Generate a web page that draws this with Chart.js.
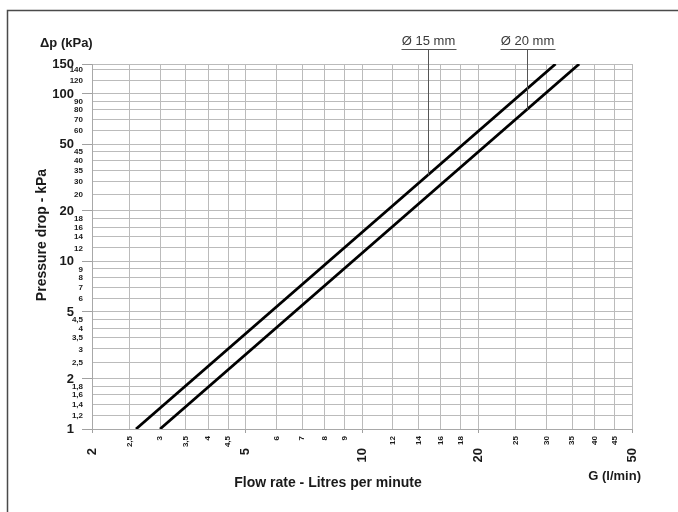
<!DOCTYPE html>
<html>
<head>
<meta charset="utf-8">
<script src="https://cdn.jsdelivr.net/npm/chart.js@4.4.0/dist/chart.umd.min.js"></script>
<style>
  html, body { margin: 0; padding: 0; background: #fff; }
</style>
</head>
<body>
<canvas id="myChart" width="678" height="512"></canvas>
<script>
// pressure drop lines (end points, log-log)
var seriesNames = ['Ø 15 mm', 'Ø 20 mm'];
var flow15 = [2.6, 31.7];
var drop15 = [1, 150];
var flow20 = [3.0, 36.5];
var drop20 = [1, 150];
// flow where each name leader drops onto its line
var leaderFlow = [14.8, 26.7];

var xTicks = [2, 2.5, 3, 3.5, 4, 4.5, 5, 6, 7, 8, 9, 10, 12, 14, 16, 18, 20, 25, 30, 35, 40, 45, 50];
var xTickLabels = ['2', '2,5', '3', '3,5', '4', '4,5', '5', '6', '7', '8', '9', '10', '12', '14', '16', '18', '20', '25', '30', '35', '40', '45', '50'];
var xMajor = [2, 5, 10, 20, 50];

var yTicks = [1, 1.2, 1.4, 1.6, 1.8, 2, 2.5, 3, 3.5, 4, 4.5, 5, 6, 7, 8, 9, 10, 12, 14, 16, 18, 20, 25, 30, 35, 40, 45, 50, 60, 70, 80, 90, 100, 120, 140, 150];
var yTickLabels = ['1', '1,2', '1,4', '1,6', '1,8', '2', '2,5', '3', '3,5', '4', '4,5', '5', '6', '7', '8', '9', '10', '12', '14', '16', '18', '20', '20', '30', '35', '40', '45', '50', '60', '70', '80', '90', '100', '120', '140', '150'];
var yMajor = [1, 2, 5, 10, 20, 50, 100, 150];

var FONT = '"Liberation Sans", Arial, Helvetica, sans-serif';
var INK = '#1a1a1a';

function toPoints(xs, ys) {
  return xs.map(function (x, i) { return { x: x, y: ys[i] }; });
}

// value on a straight log-log line through two points
function dropAt(flows, drops, g) {
  var k = Math.log(drops[1] / drops[0]) / Math.log(flows[1] / flows[0]);
  return drops[0] * Math.pow(g / flows[0], k);
}

var paper = {
  id: 'paper',
  beforeDraw: function (chart) {
    var ctx = chart.ctx;
    ctx.save();
    ctx.fillStyle = '#fff';
    ctx.fillRect(0, 0, chart.width, chart.height);
    ctx.restore();
  },
  afterDraw: function (chart) {
    var ctx = chart.ctx;
    var xs = chart.scales.x, ys = chart.scales.y;
    var area = chart.chartArea;
    ctx.save();

    // frame
    ctx.strokeStyle = '#4a4a4a';
    ctx.lineWidth = 1.5;
    ctx.beginPath();
    ctx.moveTo(7.5, chart.height);
    ctx.lineTo(7.5, 10.5);
    ctx.lineTo(chart.width, 10.5);
    ctx.stroke();

    ctx.fillStyle = INK;

    // y tick labels
    ctx.textAlign = 'right';
    ctx.textBaseline = 'middle';
    yTicks.forEach(function (v, i) {
      var major = yMajor.indexOf(v) >= 0;
      ctx.font = major ? 'bold 13px ' + FONT : 'bold 8px ' + FONT;
      ctx.fillText(yTickLabels[i], major ? 74 : 83, ys.getPixelForValue(v) + 0.5);
    });

    // x tick labels, turned to read bottom to top
    xTicks.forEach(function (v, i) {
      var major = xMajor.indexOf(v) >= 0;
      ctx.save();
      ctx.translate(xs.getPixelForValue(v), major ? area.bottom + 19 : area.bottom + 7);
      ctx.rotate(-Math.PI / 2);
      ctx.font = major ? 'bold 13px ' + FONT : 'bold 8px ' + FONT;
      ctx.textAlign = 'right';
      ctx.textBaseline = 'middle';
      ctx.fillText(xTickLabels[i], 0, 0);
      ctx.restore();
    });

    // axis titles
    ctx.font = 'bold 13px ' + FONT;
    ctx.textAlign = 'left';
    ctx.textBaseline = 'middle';
    ctx.fillText('Δp (kPa)', 40, 43);

    ctx.textAlign = 'right';
    ctx.fillText('G (l/min)', 641, 476);

    ctx.font = 'bold 14px ' + FONT;
    ctx.textAlign = 'center';
    ctx.fillText('Flow rate - Litres per minute', 328, 483);

    ctx.save();
    ctx.translate(42, 235);
    ctx.rotate(-Math.PI / 2);
    ctx.fillText('Pressure drop - kPa', 0, 0);
    ctx.restore();

    // series names with leaders
    var lines = [[flow15, drop15], [flow20, drop20]];
    seriesNames.forEach(function (name, i) {
      var g = leaderFlow[i];
      var px = Math.round(xs.getPixelForValue(g)) + 0.5;
      var py = ys.getPixelForValue(dropAt(lines[i][0], lines[i][1], g));
      ctx.font = '13px ' + FONT;
      ctx.fillStyle = '#3a3a3a';
      ctx.textAlign = 'center';
      ctx.textBaseline = 'alphabetic';
      ctx.fillText(name, px, 45);
      ctx.strokeStyle = '#555';
      ctx.lineWidth = 1;
      ctx.beginPath();
      ctx.moveTo(px - 27, 49.5);
      ctx.lineTo(px + 28, 49.5);
      ctx.moveTo(px, 49.5);
      ctx.lineTo(px, py);
      ctx.stroke();
    });

    ctx.restore();
  }
};

function tickMarkColor(major) {
  return function (c) {
    return c.tick && major.indexOf(c.tick.value) >= 0 ? '#a0a0a0' : 'rgba(0,0,0,0)';
  };
}

new Chart(document.getElementById('myChart'), {
  type: 'scatter',
  data: {
    datasets: [{
      label: seriesNames[0],
      data: toPoints(flow15, drop15),
      showLine: true,
      borderColor: '#000',
      borderWidth: 2.8,
      pointRadius: 0
    }, {
      label: seriesNames[1],
      data: toPoints(flow20, drop20),
      showLine: true,
      borderColor: '#000',
      borderWidth: 2.8,
      pointRadius: 0
    }]
  },
  options: {
    responsive: false,
    animation: false,
    layout: { padding: { left: 82, right: 46, top: 64, bottom: 79 } },
    plugins: {
      legend: { display: false },
      tooltip: { enabled: false }
    },
    scales: {
      x: {
        type: 'logarithmic',
        min: 2,
        max: 50,
        afterBuildTicks: function (scale) {
          scale.ticks = xTicks.map(function (v) { return { value: v }; });
        },
        ticks: { display: false },
        grid: {
          color: '#bbbbbb',
          lineWidth: 1,
          tickLength: 4,
          tickColor: tickMarkColor(xMajor)
        },
        border: { color: '#a8a8a8', width: 1 }
      },
      y: {
        type: 'logarithmic',
        min: 1,
        max: 150,
        afterBuildTicks: function (scale) {
          scale.ticks = yTicks.map(function (v) { return { value: v }; });
        },
        ticks: { display: false },
        grid: {
          color: '#bbbbbb',
          lineWidth: 1,
          tickLength: 10,
          tickColor: tickMarkColor(yMajor)
        },
        border: { color: '#a8a8a8', width: 1 }
      }
    }
  },
  plugins: [paper]
});
</script>
</body>
</html>
